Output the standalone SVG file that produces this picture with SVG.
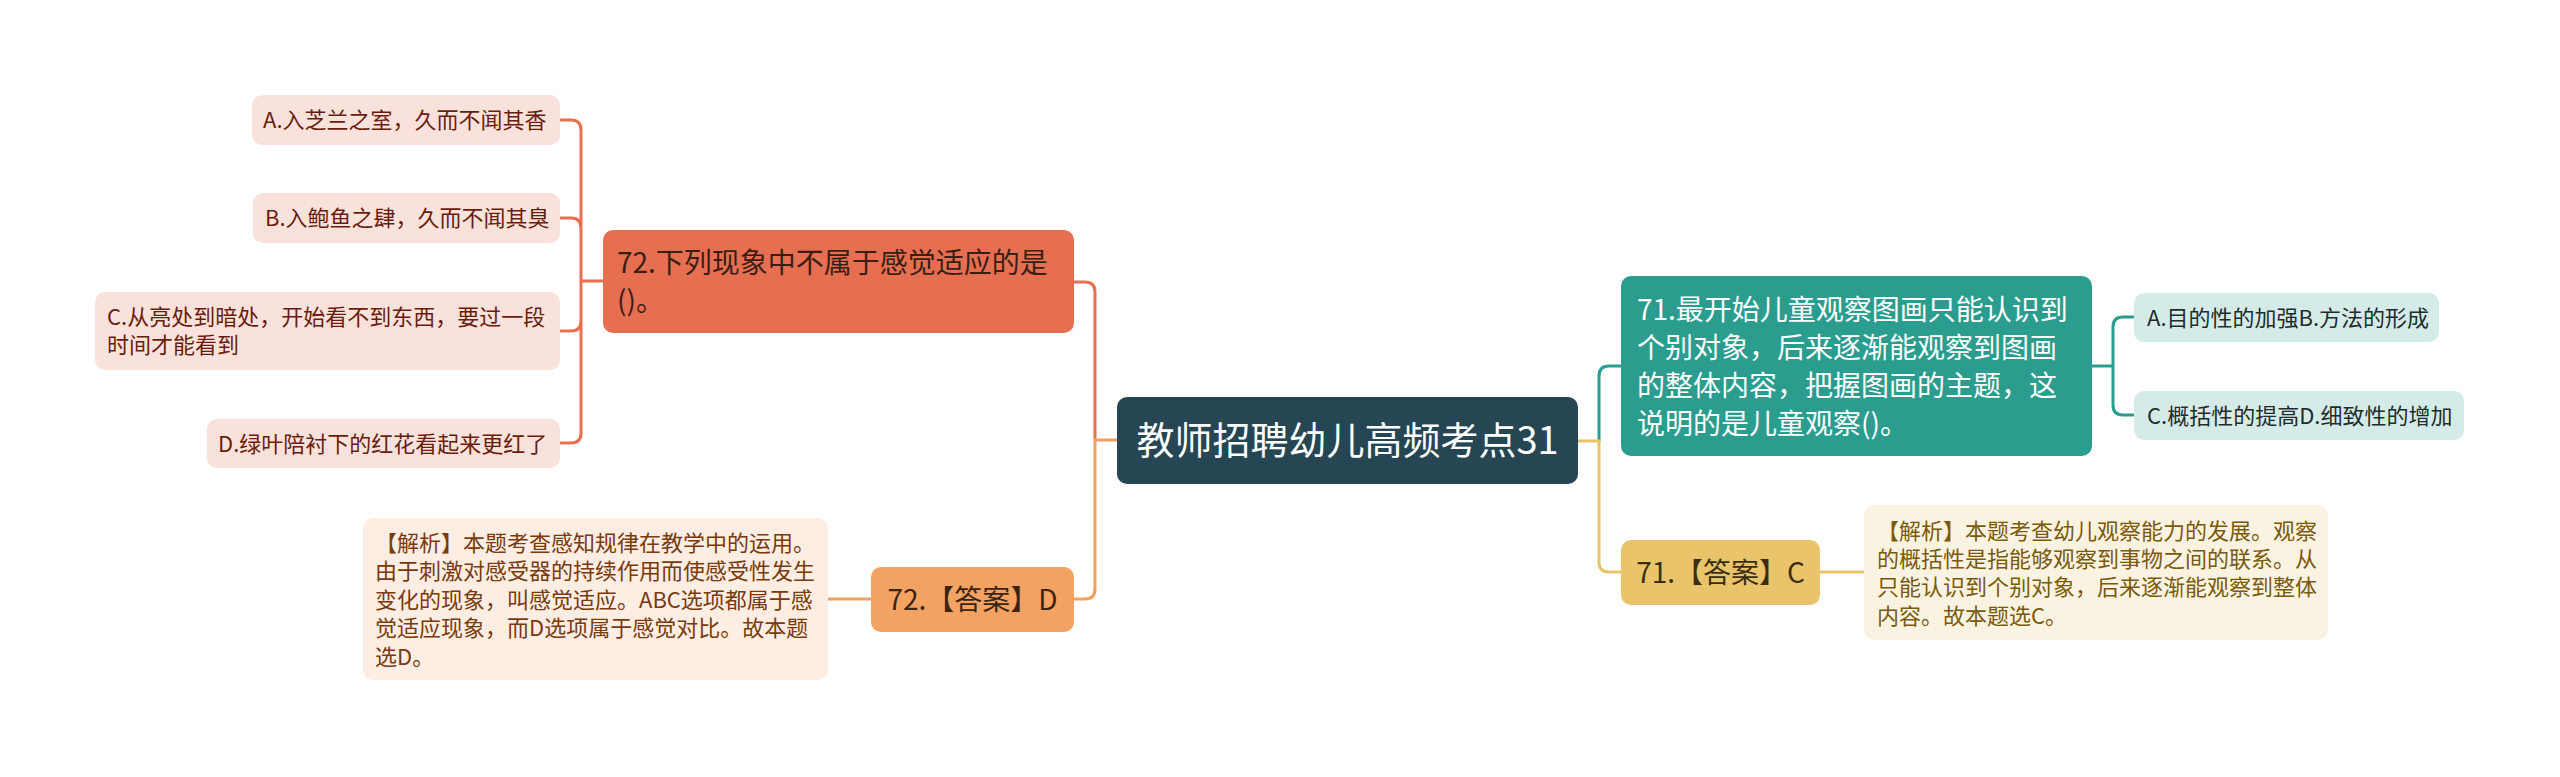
<svg xmlns="http://www.w3.org/2000/svg" width="2560" height="777" viewBox="0 0 2560 777">
<style>
text{font-family:"Noto Sans CJK SC","Noto Sans",sans-serif}
.c{fill:none;stroke-width:3;stroke-linecap:round}
.root text{fill:#fff;font-size:38px}
.l1 text{font-size:28px}
.l2 text{font-size:22px}
</style>
<rect width="2560" height="777" fill="#fff"/>
<g id="connectors">
<path class="c" stroke="#E6704F" d="M1095,440 V292 Q1095,282 1085,282 H1074"/>
<path class="c" stroke="#F2A060" d="M1117,440 H1095 V589 Q1095,599 1085,599 H1074"/>
<path class="c" stroke="#2A9D8F" d="M1599,441 V376 Q1599,366 1609,366 H1621"/>
<path class="c" stroke="#E8C468" d="M1578,441 H1599 V562 Q1599,572 1609,572 H1621"/>
<path class="c" stroke="#E6704F" d="M603,281 H581 V130 Q581,120 571,120 H560 M581,281 V228 Q581,218 571,218 H560 M581,281 V321 Q581,331 571,331 H560 M581,281 V433 Q581,443 571,443 H560"/>
<path class="c" stroke="#F2A060" d="M871,599 H828"/>
<path class="c" stroke="#2A9D8F" d="M2092,366 H2113 V327 Q2113,317 2123,317 H2134 M2113,366 V405 Q2113,415 2123,415 H2134"/>
<path class="c" stroke="#E8C468" d="M1820,572 H1864"/>
</g>
<g id="root" class="root">
<rect x="1117" y="397" width="461" height="87" rx="10" fill="#264653"/>
<text x="1347.5" y="454" text-anchor="middle">教师招聘幼儿高频考点31</text>
</g>
<g id="q72" class="l1">
<rect x="603" y="230" width="471" height="103" rx="10" fill="#E76F51"/>
<text fill="#3A1E14"><tspan x="617" y="273">72.下列现象中不属于感觉适应的是</tspan><tspan x="617" y="311">()。</tspan></text>
</g>
<g id="optA" class="l2">
<rect x="252" y="95" width="308" height="50" rx="10" fill="#F9E2DB"/>
<text x="263" y="128" fill="#6B1C0C">A.入芝兰之室，久而不闻其香</text>
</g>
<g id="optB" class="l2">
<rect x="253" y="193" width="307" height="50" rx="10" fill="#F9E2DB"/>
<text x="265" y="226" fill="#6B1C0C">B.入鲍鱼之肆，久而不闻其臭</text>
</g>
<g id="optC" class="l2">
<rect x="95" y="292" width="465" height="78" rx="10" fill="#F9E2DB"/>
<text fill="#6B1C0C"><tspan x="107" y="325">C.从亮处到暗处，开始看不到东西，要过一段</tspan><tspan x="107" y="353">时间才能看到</tspan></text>
</g>
<g id="optD" class="l2">
<rect x="207" y="419" width="353" height="49" rx="10" fill="#F9E2DB"/>
<text x="218" y="452" fill="#6B1C0C">D.绿叶陪衬下的红花看起来更红了</text>
</g>
<g id="a72" class="l1">
<rect x="871" y="567" width="203" height="65" rx="10" fill="#F4A261"/>
<text x="972.5" y="610" text-anchor="middle" fill="#3A2412">72.【答案】D</text>
</g>
<g id="e72" class="l2">
<rect x="363" y="518" width="465" height="162" rx="10" fill="#FDEDE3"/>
<text fill="#7A3A0C"><tspan x="375" y="551">【解析】本题考查感知规律在教学中的运用。</tspan><tspan x="375" y="579.4">由于刺激对感受器的持续作用而使感受性发生</tspan><tspan x="375" y="607.8">变化的现象，叫感觉适应。ABC选项都属于感</tspan><tspan x="375" y="636.2">觉适应现象，而D选项属于感觉对比。故本题</tspan><tspan x="375" y="664.6">选D。</tspan></text>
</g>
<g id="q71" class="l1">
<rect x="1621" y="276" width="471" height="180" rx="10" fill="#2A9D8F"/>
<text fill="#fff"><tspan x="1637" y="320">71.最开始儿童观察图画只能认识到</tspan><tspan x="1637" y="358">个别对象，后来逐渐能观察到图画</tspan><tspan x="1637" y="396">的整体内容，把握图画的主题，这</tspan><tspan x="1637" y="434">说明的是儿童观察()。</tspan></text>
</g>
<g id="opt71a" class="l2">
<rect x="2134" y="293" width="305" height="49" rx="10" fill="#D5EBE8"/>
<text x="2147" y="326" fill="#1E2D2B">A.目的性的加强B.方法的形成</text>
</g>
<g id="opt71c" class="l2">
<rect x="2134" y="391" width="330" height="49" rx="10" fill="#D5EBE8"/>
<text x="2147" y="424" fill="#1E2D2B">C.概括性的提高D.细致性的增加</text>
</g>
<g id="a71" class="l1">
<rect x="1621" y="540" width="199" height="65" rx="10" fill="#E9C46A"/>
<text x="1720.5" y="583" text-anchor="middle" fill="#3A2E10">71.【答案】C</text>
</g>
<g id="e71" class="l2">
<rect x="1864" y="505" width="464" height="135" rx="10" fill="#FBF3E1"/>
<text fill="#7A5A0A"><tspan x="1877" y="538.6">【解析】本题考查幼儿观察能力的发展。观察</tspan><tspan x="1877" y="567">的概括性是指能够观察到事物之间的联系。从</tspan><tspan x="1877" y="595.4">只能认识到个别对象，后来逐渐能观察到整体</tspan><tspan x="1877" y="623.8">内容。故本题选C。</tspan></text>
</g>
</svg>
